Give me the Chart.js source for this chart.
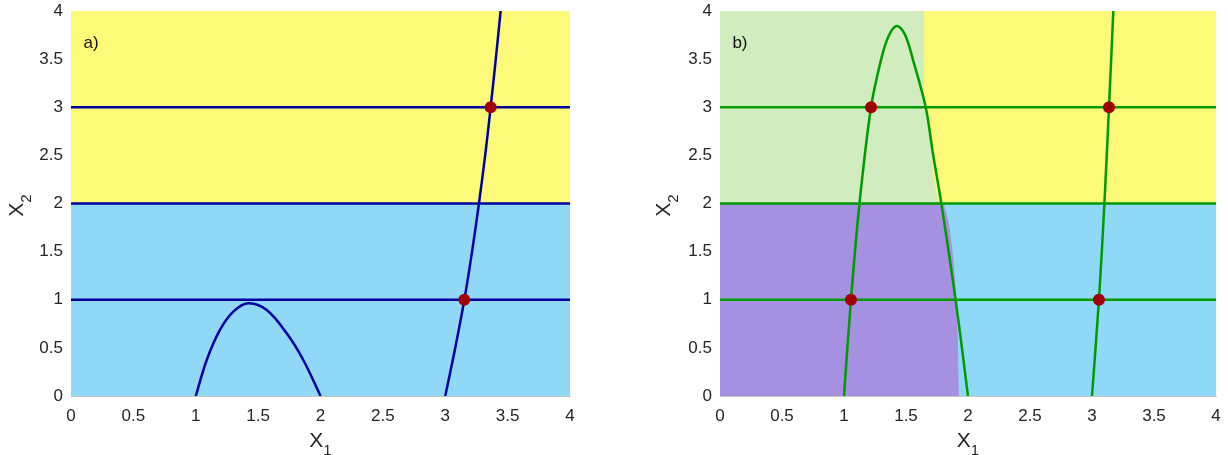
<!DOCTYPE html>
<html>
<head>
<meta charset="utf-8">
<script src="https://cdn.jsdelivr.net/npm/chart.js@4.4.1/dist/chart.umd.min.js"></script>
<style>
  html, body { margin: 0; padding: 0; background: #fff; }
  #wrap { position: relative; width: 1228px; height: 455px; }
  #wrap canvas { position: absolute; top: 0; }
</style>
</head>
<body>
<div id="wrap">
  <canvas id="chart_a" width="614" height="455" style="left:0"></canvas>
  <canvas id="chart_b" width="614" height="455" style="left:614px"></canvas>
</div>
<script>
// shared
const level_lines = [1, 2, 3];
const panel_tags = ['a)', 'b)'];
const tag_pos = [0.1, 3.66];

// panel a
const a_band_split = 2;
const a_hump_x = [1.0, 1.088, 1.194, 1.301, 1.42, 1.569, 1.729, 1.862, 2.0];
const a_hump_y = [0, 0.374, 0.686, 0.876, 0.963, 0.893, 0.651, 0.374, 0];
const a_steep_x = [3.0, 3.08, 3.153, 3.215, 3.27, 3.32, 3.364, 3.405, 3.444];
const a_steep_y = [0, 0.5, 1, 1.5, 2, 2.5, 3, 3.5, 4];
const a_dot_x = [3.153, 3.364];
const a_dot_y = [1, 3];

// panel b
const b_hump_x = [1.0, 1.056, 1.125, 1.218, 1.30, 1.36, 1.425, 1.49, 1.557, 1.659, 1.717, 1.785, 1.90, 2.0];
const b_hump_y = [0, 1, 2, 3, 3.5, 3.74, 3.844, 3.76, 3.49, 3.0, 2.52, 2.0, 1.0, 0];
const b_steep_x = [3.0, 3.056, 3.10, 3.137, 3.172];
const b_steep_y = [0, 1, 2, 3, 4];
const b_dot_x = [1.056, 1.218, 3.056, 3.137];
const b_dot_y = [1, 3, 1, 3];
// region borders (upper: green | yellow, lower: purple | blue)
const b_upper_edge_x = [1.64, 1.64, 1.661, 1.694, 1.718, 1.758, 1.775];
const b_upper_edge_y = [4, 3.15, 2.97, 2.63, 2.275, 2.015, 2];
const b_lower_edge_x = [1.80, 1.841, 1.877, 1.903, 1.914, 1.922];
const b_lower_edge_y = [2, 1.80, 1.447, 1.0, 0.58, 0];

const YELLOW = 'rgb(253, 250, 122)';
const BLUE = 'rgb(143, 217, 246)';
const PALE_GREEN = 'rgb(209, 236, 191)';
const PURPLE = 'rgb(166, 144, 225)';
const DOT_RED = 'rgb(160, 0, 0)';
const NAVY = 'rgb(0, 0, 160)';
const GREEN = 'rgb(0, 155, 0)';
const FONT = '"Liberation Sans", Arial, sans-serif';

const pts = (xs, ys) => xs.map((x, i) => ({x: x, y: ys[i]}));

const region = (points, color) => ({
    data: points,
    showLine: true,
    fill: 'shape',
    backgroundColor: color,
    borderColor: color,
    borderWidth: 1,
    pointRadius: 0,
    order: 3
});
const curve = (points, color) => ({
    data: points,
    showLine: true,
    fill: false,
    borderColor: color,
    borderWidth: 2.5,
    pointRadius: 0,
    tension: 0.35,
    order: 2
});
const dots = (points) => ({
    data: points,
    showLine: false,
    pointRadius: 6,
    pointBackgroundColor: DOT_RED,
    pointBorderWidth: 0,
    order: 1
});
const levels = (color) => level_lines.map(h => curve(pts([0, 4], [h, h]), color));

// axis title with subscript, drawn as text
function drawSubText(ctx, main, sub, cx, base) {
    ctx.font = '21px ' + FONT;
    const wm = ctx.measureText(main).width;
    ctx.font = '15px ' + FONT;
    const ws = ctx.measureText(sub).width;
    const x0 = cx - (wm + ws) / 2;
    ctx.textAlign = 'left';
    ctx.textBaseline = 'alphabetic';
    ctx.font = '21px ' + FONT;
    ctx.fillText(main, x0, base);
    ctx.font = '15px ' + FONT;
    ctx.fillText(sub, x0 + wm, base + 8);
}

const panelDecor = {
    id: 'panelDecor',
    afterDraw(chart, args, opts) {
        const ctx = chart.ctx;
        const area = chart.chartArea;
        const xs = chart.scales.x, ys = chart.scales.y;
        ctx.save();
        ctx.fillStyle = '#111';
        ctx.font = '17px ' + FONT;
        ctx.textBaseline = 'middle';
        ctx.textAlign = 'left';
        ctx.fillText(opts.tag, xs.getPixelForValue(tag_pos[0]), ys.getPixelForValue(tag_pos[1]));

        ctx.fillStyle = '#262626';
        drawSubText(ctx, 'X', '1', (area.left + area.right) / 2, area.bottom + 50.5);

        ctx.translate(area.left - opts.yTitleGap, (area.top + area.bottom) / 2 + 2);
        ctx.rotate(-Math.PI / 2);
        drawSubText(ctx, 'X', '2', 0, 0);
        ctx.restore();
    }
};

function makeConfig(datasets, tag, yWidth, rightPad, yTitleGap) {
    const tickFont = {family: FONT, size: 17};
    const fmt = (v) => String(v);
    return {
        type: 'scatter',
        data: {datasets: datasets},
        options: {
            responsive: false,
            animation: false,
            layout: {padding: {top: 11, right: rightPad, bottom: 0, left: 0}},
            plugins: {
                legend: {display: false},
                tooltip: {enabled: false},
                panelDecor: {tag: tag, yTitleGap: yTitleGap}
            },
            scales: {
                x: {
                    type: 'linear', min: 0, max: 4,
                    ticks: {stepSize: 0.5, color: '#262626', font: tickFont, padding: 0, maxRotation: 0, callback: fmt},
                    grid: {display: true, drawOnChartArea: false, drawTicks: true, tickLength: 10, tickColor: 'transparent'},
                    border: {color: '#c4c4c4', width: 1},
                    afterFit: (s) => { s.height = 59; }
                },
                y: {
                    type: 'linear', min: 0, max: 4,
                    ticks: {stepSize: 0.5, color: '#262626', font: tickFont, padding: 0, callback: fmt},
                    grid: {display: true, drawOnChartArea: false, drawTicks: true, tickLength: 8, tickColor: 'transparent'},
                    border: {color: '#c4c4c4', width: 1},
                    afterFit: (s) => { s.width = yWidth; }
                }
            }
        },
        plugins: [panelDecor]
    };
}

const a_sets = [
    region(pts([0, 4, 4, 0], [a_band_split, a_band_split, 4, 4]), YELLOW),
    region(pts([0, 4, 4, 0], [0, 0, a_band_split, a_band_split]), BLUE),
    ...levels(NAVY),
    curve(pts(a_hump_x, a_hump_y), NAVY),
    curve(pts(a_steep_x, a_steep_y), NAVY),
    dots(pts(a_dot_x, a_dot_y))
];

const up_edge = pts(b_upper_edge_x, b_upper_edge_y);
const low_edge = pts(b_lower_edge_x, b_lower_edge_y);
const b_sets = [
    region([{x: 0, y: 2}, {x: 0, y: 4}, ...up_edge], PALE_GREEN),
    region([...up_edge, {x: 4, y: 2}, {x: 4, y: 4}], YELLOW),
    region([{x: 0, y: 0}, {x: 0, y: 2}, ...low_edge], PURPLE),
    region([...low_edge, {x: 4, y: 0}, {x: 4, y: 2}], BLUE),
    ...levels(GREEN),
    curve(pts(b_hump_x, b_hump_y), GREEN),
    curve(pts(b_steep_x, b_steep_y), GREEN),
    dots(pts(b_dot_x, b_dot_y))
];

const chart_a = new Chart(document.getElementById('chart_a'), makeConfig(a_sets, panel_tags[0], 71, 44, 47.7));
const chart_b = new Chart(document.getElementById('chart_b'), makeConfig(b_sets, panel_tags[1], 106, 12, 50));
</script>
</body>
</html>
